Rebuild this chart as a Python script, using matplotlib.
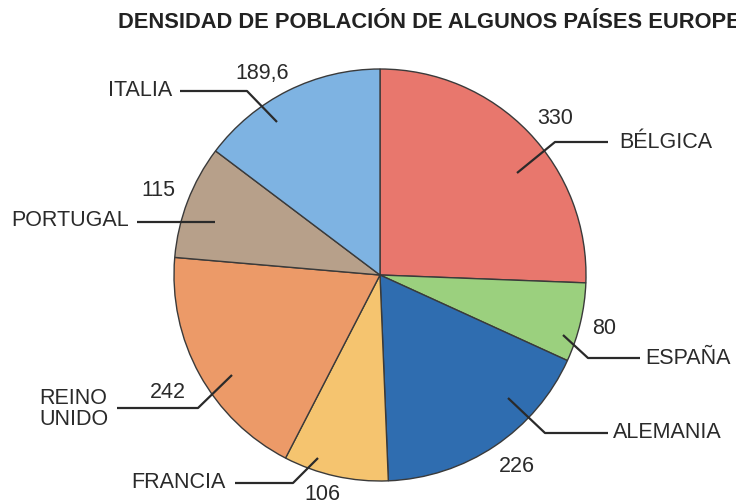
import matplotlib.pyplot as plt

plt.rcParams['font.family'] = ['Liberation Sans', 'DejaVu Sans']

# datos
paises = ['BÉLGICA', 'ESPAÑA', 'ALEMANIA', 'FRANCIA', 'REINO\nUNIDO', 'PORTUGAL', 'ITALIA']
densidad = [330, 80, 226, 106, 242, 115, 189.6]
etiquetas = ['330', '80', '226', '106', '242', '115', '189,6']
colores = ['#E8776D', '#9BD07E', '#2F6DB0', '#F5C46F', '#EC9A68', '#B7A08A', '#7EB3E2']

W, H = 736, 504

fig = plt.figure(figsize=(W / 100, H / 100), dpi=100)
ax = fig.add_axes([0, 0, 1, 1])

ax.pie(densidad, colors=colores, startangle=90, counterclock=False,
       center=(380, H - 275), radius=206,
       wedgeprops=dict(edgecolor='#3a3a3a', linewidth=1.0))

# lineas guia (coordenadas en pixeles de la imagen) : puntos, texto nombre, texto valor
guias = [
    ([(517, 173), (555, 142), (608, 142)], (619, 143, 'left'), (555, 118)),
    ([(563, 335), (588, 358), (640, 358)], (645, 358, 'left'), (604, 328)),
    ([(508, 398), (545, 433), (608, 433)], (613, 433, 'left'), (517, 466)),
    ([(318, 458), (293, 483), (235, 483)], (226, 483, 'right'), (322, 494)),
    ([(232, 375), (198, 408), (117, 408)], (39, 409, 'left'), (168, 393)),
    ([(215, 222), (137, 222)], (129, 221, 'right'), (158, 190)),
    ([(277, 122), (247, 91), (180, 91)], (172, 90, 'right'), (262, 73)),
]

for nombre, val, (pts, (nx, ny, ha), (vx, vy)) in zip(paises, etiquetas, guias):
    xs = [p[0] for p in pts]
    ys = [H - p[1] for p in pts]
    ax.plot(xs, ys, color='#2a2a2a', linewidth=1.6, solid_capstyle='butt')
    ax.text(nx, H - ny, nombre, ha=ha, va='center', fontsize=15.5,
            color='#2a2a2a', linespacing=1.05, multialignment='left')
    ax.text(vx, H - vy, val, ha='center', va='center', fontsize=15.5, color='#2a2a2a')

# el titulo sale cortado por el borde derecho, igual que en el original
ax.text(118, H - 22, 'DENSIDAD DE POBLACIÓN DE ALGUNOS PAÍSES EUROPEOS',
        ha='left', va='center', fontsize=15.75, fontweight='bold', color='#222222')

ax.set_xlim(0, W)
ax.set_ylim(0, H)
ax.set_aspect('auto')
ax.axis('off')

fig.savefig('out.png', dpi=100)
